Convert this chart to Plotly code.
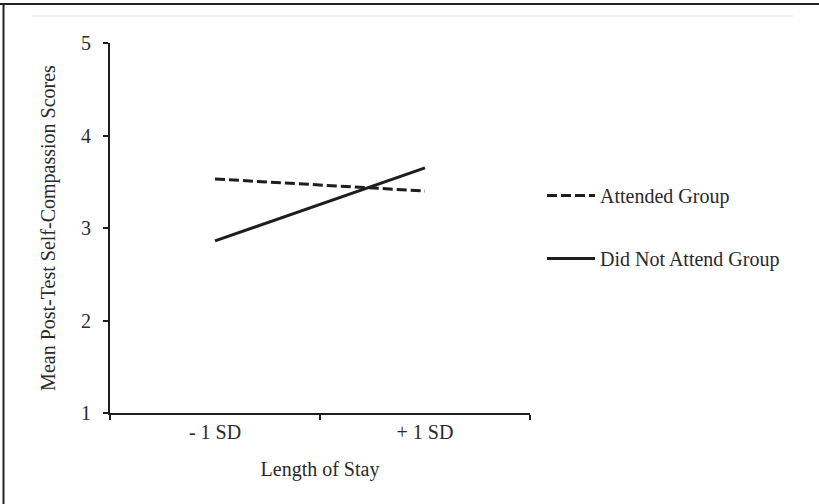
import plotly.graph_objects as go

categories = ["- 1 SD", "+ 1 SD"]
attended = [3.53, 3.40]
did_not_attend = [2.86, 3.65]
series_names = ["Attended Group", "Did Not Attend Group"]
y_ticks = [1, 2, 3, 4, 5]

FONT = "Liberation Serif"
INK = "#1e1e1e"
TXT = "#2a2a2a"
FS = 20

W, H = 819, 504
L, R, T, B = 110, 289, 43, 91
pw, ph = W - L - R, H - T - B


def px(x):
    return (x - L) / pw


def py(y):
    return (H - B - y) / ph


fig = go.Figure()
fig.add_trace(go.Scatter(
    x=categories, y=attended, mode="lines", name=series_names[0],
    line=dict(color=INK, width=3, dash="10px,4px"), legendgroup="a"))
fig.add_trace(go.Scatter(
    x=categories, y=did_not_attend, mode="lines", name=series_names[1],
    line=dict(color=INK, width=3), legendgroup="b"))

shapes = [
    dict(type="line", xref="paper", yref="paper", x0=px(0), x1=px(W), y0=py(4), y1=py(4),
         line=dict(color="#222", width=2)),
    dict(type="line", xref="paper", yref="paper", x0=px(3.5), x1=px(3.5), y0=py(3), y1=py(H),
         line=dict(color="#222", width=2)),
    dict(type="line", xref="paper", yref="paper", x0=px(32), x1=px(793), y0=py(16), y1=py(16),
         line=dict(color="#eeeeee", width=1.5)),
]

fig.update_layout(
    width=W, height=H,
    margin=dict(l=L, r=R, t=T, b=B, autoexpand=False),
    paper_bgcolor="white", plot_bgcolor="white",
    font=dict(family=FONT, size=FS, color=TXT),
    showlegend=True,
    legend=dict(x=px(542), y=py(176), xanchor="left", yanchor="top",
                bgcolor="rgba(0,0,0,0)", tracegroupgap=34, itemwidth=48,
                font=dict(family=FONT, size=FS, color=TXT)),
    shapes=shapes,
)
fig.update_xaxes(
    type="category", range=[-0.5, 1.5], showline=True, linecolor=INK, linewidth=2,
    ticks="outside", tickson="boundaries", ticklen=5, tickwidth=1.5, tickcolor=INK,
    showgrid=False, zeroline=False,
    title=dict(text="Length of Stay", standoff=20, font=dict(family=FONT, size=FS, color=TXT)),
)
fig.update_yaxes(
    range=[1, 5], tickvals=y_ticks, showline=True, linecolor=INK, linewidth=2,
    ticks="outside", ticklen=5, tickwidth=1.5, tickcolor=INK, ticklabelstandoff=8,
    showgrid=False, zeroline=False,
    title=dict(text="Mean Post-Test Self-Compassion Scores", standoff=20,
               font=dict(family=FONT, size=FS, color=TXT)),
)

fig.write_html("out.html", config={"displayModeBar": False},
               post_script="document.body.style.margin='0';")
